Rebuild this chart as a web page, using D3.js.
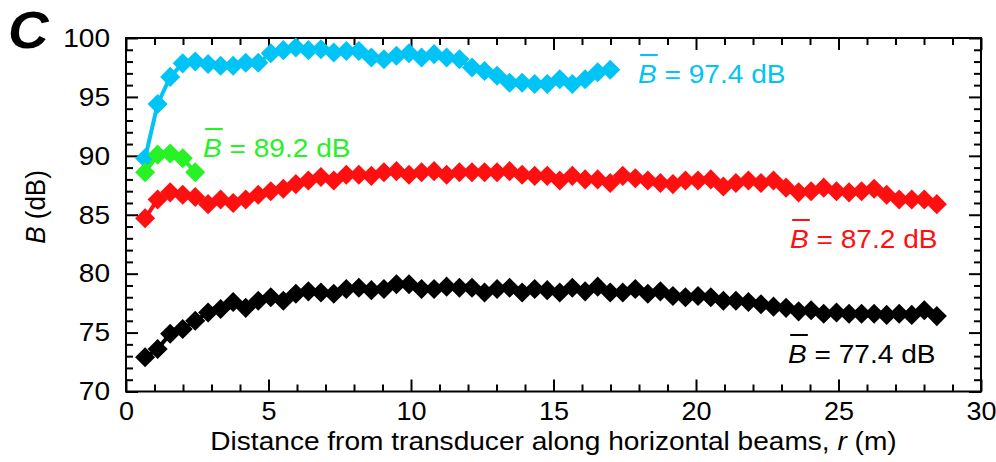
<!DOCTYPE html>
<html>
<head>
<meta charset="utf-8">
<script src="https://cdn.jsdelivr.net/npm/d3@7"></script>
<style>
  body { margin: 0; background: #fff; }
  svg { display: block; }
  text { font-family: "Liberation Sans", Arial, Helvetica, sans-serif; }
</style>
</head>
<body>
<svg id="chart" width="996" height="462"></svg>
<script>
// Range bins along the horizontal beams (m)
const distance = [
  0.67, 1.11, 1.55, 1.99, 2.43, 2.88, 3.32, 3.76, 4.20, 4.64,
  5.08, 5.52, 5.96, 6.40, 6.84, 7.29, 7.73, 8.17, 8.61, 9.05,
  9.49, 9.93, 10.37, 10.81, 11.25, 11.70, 12.14, 12.58, 13.02, 13.46,
  13.90, 14.34, 14.78, 15.22, 15.66, 16.11, 16.55, 16.99, 17.43, 17.87,
  18.31, 18.75, 19.19, 19.63, 20.07, 20.52, 20.96, 21.40, 21.84, 22.28,
  22.72, 23.16, 23.60, 24.04, 24.48, 24.93, 25.37, 25.81, 26.25, 26.69,
  27.13, 27.57, 28.01, 28.45
];

// Backscatter B (dB) per bin
const bBlue = [
  89.8, 94.4, 96.7, 97.85, 98.0, 97.8, 97.65, 97.65, 97.9, 97.9,
  98.7, 98.97, 99.2, 98.97, 99.05, 98.77, 98.9, 98.9, 98.35, 98.2,
  98.5, 98.7, 98.35, 98.63, 98.35, 98.2, 97.5, 97.2, 96.8, 96.2,
  96.2, 96.1, 96.1, 96.5, 96.1, 96.5, 97.1, 97.3
];
const bGreen = [88.6, 90.1, 90.2, 89.8, 88.6];
const bRed = [
  84.7, 86.3, 86.9, 86.7, 86.5, 85.9, 86.3, 86.0, 86.3, 86.7,
  87.0, 87.2, 87.6, 87.9, 88.2, 87.9, 88.4, 88.4, 88.3, 88.6,
  88.7, 88.4, 88.6, 88.7, 88.4, 88.6, 88.6, 88.6, 88.6, 88.7,
  88.4, 88.3, 88.3, 87.9, 88.3, 88.0, 88.0, 87.7, 88.3, 88.1,
  87.9, 87.7, 87.6, 87.9, 87.9, 88.0, 87.4, 87.7, 87.9, 87.7,
  87.9, 87.3, 86.9, 87.0, 87.3, 87.0, 86.9, 87.0, 87.2, 86.7,
  86.3, 86.3, 86.3, 85.9
];
const bBlack = [
  72.9, 73.6, 74.9, 75.3, 76.0, 76.7, 77.0, 77.6, 77.1, 77.7,
  78.0, 77.7, 78.3, 78.5, 78.4, 78.3, 78.7, 78.8, 78.6, 78.7,
  79.1, 79.1, 78.7, 78.7, 78.9, 78.8, 78.8, 78.4, 78.7, 78.8,
  78.4, 78.7, 78.6, 78.4, 78.8, 78.5, 78.9, 78.4, 78.4, 78.7,
  78.3, 78.5, 78.1, 78.0, 78.1, 78.0, 77.7, 77.7, 77.6, 77.4,
  77.2, 77.1, 76.8, 76.9, 76.6, 76.7, 76.6, 76.6, 76.6, 76.5,
  76.6, 76.5, 76.9, 76.4
];

// Mean levels quoted next to each profile
const meanBlue = "97.4", meanGreen = "89.2", meanRed = "87.2", meanBlack = "77.4";

const xTicks = [0, 5, 10, 15, 20, 25, 30];
const yTicks = [70, 75, 80, 85, 90, 95, 100];

// ---------------------------------------------------------------------------
const SX = 1.08;      // horizontal stretch applied to all lettering
const FS = 26;        // base font size
const svg = d3.select("#chart");
const L = 126, R = 981, T = 38, B = 391.5;

const x = d3.scaleLinear().domain([0, 30]).range([L, R]);
const y = d3.scaleLinear().domain([70, 100]).range([B, T]);

const minorX = d3.range(0, 31).filter(v => v % 5 !== 0);
const minorY = d3.range(70, 101).filter(v => v % 5 !== 0);

function styleAxis(g) {
  g.select(".domain").remove();
  g.selectAll("line").attr("stroke", "#000").attr("stroke-width", 2);
}

// bottom axis: minor + major (inward) with labels
svg.append("g").attr("transform", `translate(0,${B})`)
  .call(d3.axisBottom(x).tickValues(minorX).tickSizeInner(-7).tickSizeOuter(0).tickFormat(""))
  .call(styleAxis);
const xAx = svg.append("g").attr("transform", `translate(0,${B})`)
  .call(d3.axisBottom(x).tickValues(xTicks).tickSizeInner(-12).tickSizeOuter(0).tickPadding(11))
  .call(styleAxis);
xAx.selectAll("text").attr("font-size", 25).attr("fill", "#000")
  .attr("font-family", "Liberation Sans, Arial, sans-serif")
  .attr("transform", `scale(${SX},1)`);

// top axis: ticks only
svg.append("g").attr("transform", `translate(0,${T})`)
  .call(d3.axisTop(x).tickValues(minorX).tickSizeInner(-7).tickSizeOuter(0).tickFormat(""))
  .call(styleAxis);
svg.append("g").attr("transform", `translate(0,${T})`)
  .call(d3.axisTop(x).tickValues(xTicks).tickSizeInner(-12).tickSizeOuter(0).tickFormat(""))
  .call(styleAxis);

// left axis
svg.append("g").attr("transform", `translate(${L},0)`)
  .call(d3.axisLeft(y).tickValues(minorY).tickSizeInner(-7).tickSizeOuter(0).tickFormat(""))
  .call(styleAxis);
const yAx = svg.append("g").attr("transform", `translate(${L},0)`)
  .call(d3.axisLeft(y).tickValues(yTicks).tickSizeInner(-12).tickSizeOuter(0).tickPadding(16))
  .call(styleAxis);
yAx.selectAll("text").attr("font-size", FS).attr("fill", "#000")
  .attr("font-family", "Liberation Sans, Arial, sans-serif")
  .attr("x", -16 / SX)
  .attr("transform", `scale(${SX},1)`);

// right axis: ticks only
svg.append("g").attr("transform", `translate(${R},0)`)
  .call(d3.axisRight(y).tickValues(minorY).tickSizeInner(-7).tickSizeOuter(0).tickFormat(""))
  .call(styleAxis);
svg.append("g").attr("transform", `translate(${R},0)`)
  .call(d3.axisRight(y).tickValues(yTicks).tickSizeInner(-12).tickSizeOuter(0).tickFormat(""))
  .call(styleAxis);

// frame
svg.append("rect").attr("x", L).attr("y", T).attr("width", R - L).attr("height", B - T)
  .attr("fill", "none").attr("stroke", "#000").attr("stroke-width", 2);

// ---------------------------------------------------------------------------
// profiles: connecting line + diamond markers
const diamond = d3.symbol().type(d3.symbolSquare).size(14.2 * 14.2);
function drawProfile(values, color) {
  const pts = values.map((v, i) => [distance[i], v]);
  const g = svg.append("g");
  g.append("path")
    .attr("d", d3.line().x(d => x(d[0])).y(d => y(d[1]))(pts))
    .attr("fill", "none").attr("stroke", color).attr("stroke-width", 4)
    .attr("stroke-linejoin", "round");
  g.selectAll("path.pt").data(pts).join("path").attr("class", "pt")
    .attr("d", diamond)
    .attr("transform", d => `translate(${x(d[0])},${y(d[1])}) rotate(45)`)
    .attr("fill", color);
}
const cBlue = "#00c4f6", cGreen = "#26f226", cRed = "#ff0f0f", cBlack = "#000000";
drawProfile(bBlack, cBlack);
drawProfile(bRed, cRed);
drawProfile(bBlue, cBlue);
drawProfile(bGreen, cGreen);

// ---------------------------------------------------------------------------
// mean labels  "B̄ = xx.x dB"
function meanLabel(px, py, value, color) {
  const g = svg.append("g").attr("transform", `translate(${px},${py}) scale(${SX},1)`);
  const t = g.append("text").attr("font-size", FS).attr("fill", color);
  t.append("tspan").attr("font-style", "italic").text("B");
  t.append("tspan").text(` = ${value} dB`);
  const wB = t.node().getSubStringLength(0, 1);
  g.append("line").attr("x1", 2).attr("x2", wB + 1)
    .attr("y1", -28).attr("y2", -28)
    .attr("stroke", color).attr("stroke-width", 2);
}
meanLabel(638, 83, meanBlue, cBlue);
meanLabel(203, 157, meanGreen, cGreen);
meanLabel(790, 248, meanRed, cRed);
meanLabel(788, 363, meanBlack, cBlack);

// axis titles
const xt = svg.append("g").attr("transform", `translate(${(L + R) / 2},450) scale(${SX},1)`)
  .append("text").attr("text-anchor", "middle").attr("font-size", FS).attr("fill", "#000");
xt.append("tspan").text("Distance from transducer along horizontal beams, ");
xt.append("tspan").attr("font-style", "italic").text("r");
xt.append("tspan").text(" (m)");

const yt = svg.append("g").attr("transform", `translate(45,207) scale(${SX},1) rotate(-90)`)
  .append("text").attr("text-anchor", "middle").attr("font-size", FS).attr("fill", "#000");
yt.append("tspan").attr("font-style", "italic").text("B");
yt.append("tspan").text(" (dB)");

// panel letter
svg.append("g").attr("transform", `translate(8,48) scale(${SX},1)`)
  .append("text").attr("font-size", 52).attr("font-weight", "bold").attr("font-style", "italic")
  .attr("fill", "#000").text("C");
</script>
</body>
</html>
